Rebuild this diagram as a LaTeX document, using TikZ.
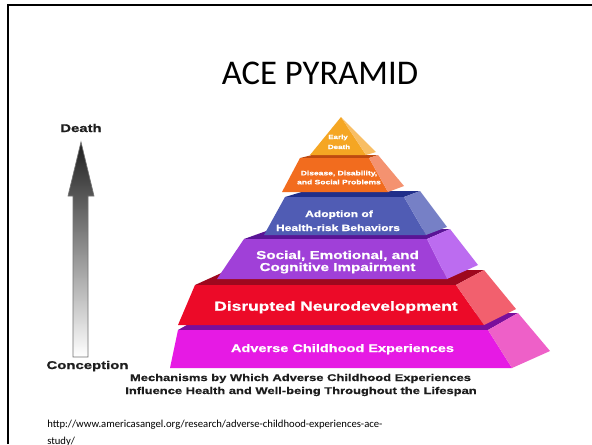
\documentclass[tikz,border=0pt]{standalone}
\usepackage{fontspec}
\setmainfont{Carlito}
\newfontfamily\widebf{Liberation Sans}[FakeStretch=1.33, FakeBold=0.8]
\newcommand{\lblfont}[1]{\widebf\bfseries\fontsize{#1}{#1}\selectfont}

% pyramid colours: front face, side face, top ledge
\definecolor{magFront}{RGB}{230,26,228}
\definecolor{magSide}{RGB}{238,96,200}
\definecolor{magLedge}{RGB}{122,14,156}
\definecolor{redFront}{RGB}{236,10,40}
\definecolor{redSide}{RGB}{242,96,110}
\definecolor{redLedge}{RGB}{158,8,30}
\definecolor{purFront}{RGB}{160,64,216}
\definecolor{purSide}{RGB}{188,108,240}
\definecolor{purLedge}{RGB}{90,20,150}
\definecolor{bluFront}{RGB}{80,92,180}
\definecolor{bluSide}{RGB}{118,128,198}
\definecolor{bluLedge}{RGB}{32,46,138}
\definecolor{oraFront}{RGB}{242,108,30}
\definecolor{oraSide}{RGB}{244,146,112}
\definecolor{oraLedge}{RGB}{190,74,16}
\definecolor{yelFront}{RGB}{245,166,35}
\definecolor{yelSide}{RGB}{248,190,100}
\definecolor{inkdark}{RGB}{30,30,30}

\tikzset{
  lbl/.style={text=white, inner sep=0pt, anchor=base},
  axislbl/.style={text=inkdark, inner sep=0pt, anchor=base, font=\lblfont{8.4}},
  caption/.style={text=inkdark, inner sep=0pt, anchor=base, font=\lblfont{7.3}},
  urltext/.style={text=black, inner sep=0pt, anchor=base west, font=\fontsize{8}{10}\selectfont},
}

\begin{document}
\begin{tikzpicture}[x=0.75pt,y=-0.75pt]
\useasboundingbox (0,0) rectangle (592,444);
\fill[white] (0,0) rectangle (592,444);

% slide frame
\draw[line width=1.9pt, line join=miter] (8,444) -- (8,5) -- (592,5);

% title
\node[inner sep=0pt, anchor=base, font=\fontsize{26}{30}\selectfont] (title) at (320,84) {ACE PYRAMID};

% time arrow
\shade[top color=black!88, bottom color=white, draw=black!55, line width=0.5pt]
  (73,357) -- (73,196) -- (68,196) -- (81,142) -- (94,196) -- (88,196) -- (88,357) -- cycle;
\node[axislbl] (death) at (81,132) {Death};
\node[axislbl] (conception) at (87.5,369) {Conception};

% layer 1: magenta
\fill[magLedge] (178,330) -- (488,330) -- (518,313) -- (208,313) -- cycle;
\fill[magFront] (170,368) -- (512,368) -- (488,330) -- (178,330) -- cycle;
\fill[magSide] (512,368) -- (550,351) -- (518,313) -- (488,330) -- cycle;

% layer 2: red
\fill[redLedge] (195,285) -- (456,285) -- (484,270) -- (228,270) -- cycle;
\fill[redFront] (178,325) -- (484,325) -- (456,285) -- (195,285) -- cycle;
\fill[redSide] (484,325) -- (516,309) -- (484,270) -- (456,285) -- cycle;

% layer 3: purple
\fill[purLedge] (244,239) -- (427,239) -- (450,229) -- (272,229) -- cycle;
\fill[purFront] (217,279) -- (447,279) -- (427,239) -- (244,239) -- cycle;
\fill[purSide] (447,279) -- (478,265) -- (450,229) -- (427,239) -- cycle;

% layer 4: blue
\fill[bluLedge] (285,197) -- (404,197) -- (420,191) -- (305,191) -- cycle;
\fill[bluFront] (264,235) -- (426,235) -- (404,197) -- (285,197) -- cycle;
\fill[bluSide] (426,235) -- (447,227) -- (420,191) -- (404,197) -- cycle;

% layer 5: orange
\fill[oraLedge] (300,158) -- (369,158) -- (378,155) -- (312,155) -- cycle;
\fill[oraFront] (282,192) -- (388,192) -- (369,158) -- (300,158) -- cycle;
\fill[oraSide] (388,192) -- (404,186) -- (378,155) -- (369,158) -- cycle;

% layer 6: apex
\fill[yelFront] (310,155) -- (366,155) -- (341,117) -- cycle;
\fill[yelSide] (366,155) -- (376,152) -- (341,117) -- cycle;

% layer labels
\node[lbl, font=\lblfont{4.5}] (early) at (338,139) {Early};
\node[lbl, font=\lblfont{4.5}] (earlydeath) at (339,149) {Death};
\node[lbl, font=\lblfont{4.8}] (disease) at (339,175.3) {Disease, Disability,};
\node[lbl, font=\lblfont{4.8}] (social1) at (339,184.3) {and Social Problems};
\node[lbl, font=\lblfont{6.8}] (adopt) at (339,217) {Adoption of};
\node[lbl, font=\lblfont{6.8}] (health) at (338,231) {Health-risk Behaviors};
\node[lbl, font=\lblfont{8.6}] (emo) at (337.5,259) {Social, Emotional, and};
\node[lbl, font=\lblfont{8.6}] (cog) at (337.5,271) {Cognitive Impairment};
\node[lbl, font=\lblfont{9.8}] (neuro) at (336,310.7) {Disrupted Neurodevelopment};
\node[lbl, font=\lblfont{8.2}] (ace) at (342.5,352) {Adverse Childhood Experiences};

% caption
\node[caption] (cap1) at (300.5,381) {Mechanisms by Which Adverse Childhood Experiences};
\node[caption] (cap2) at (301,394) {Influence Health and Well-being Throughout the Lifespan};

% source
\node[urltext] (url1) at (47,427) {http://www.americasangel.org/research/adverse-childhood-experiences-ace-};
\node[urltext] (url2) at (47,444) {study/};
\end{tikzpicture}
\end{document}
